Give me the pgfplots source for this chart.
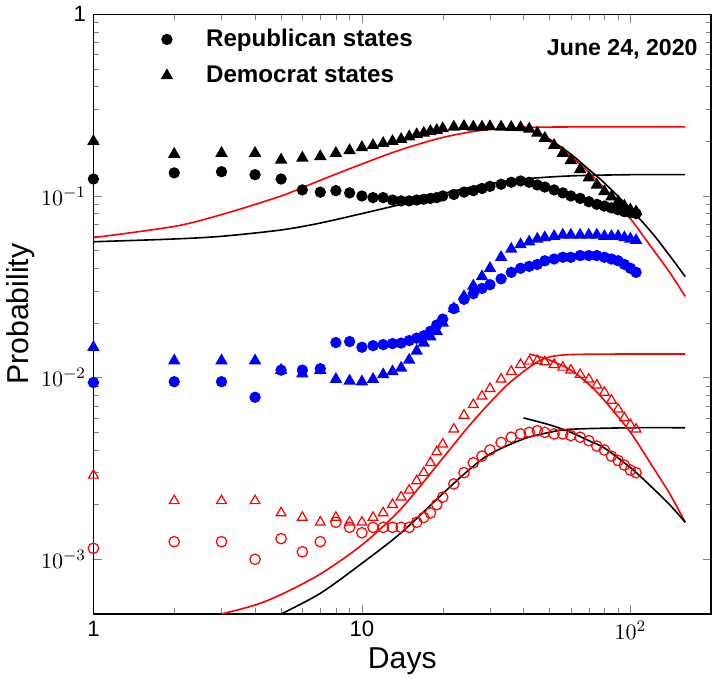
\documentclass[border=0pt]{standalone}
\usepackage{pgfplots}
\pgfplotsset{compat=1.18}
\usepackage{fontspec}
\setmainfont{Liberation Sans}
\begin{document}
\begin{tikzpicture}
\begin{axis}[scale only axis, width=307pt, height=298pt,
 xmode=log, ymode=log, xmin=1, xmax=200, ymin=5e-4, ymax=1,
 xtick={1,10,100}, xticklabels={1,10,$10^2$},
 ytick={1e-3,1e-2,1e-1,1}, yticklabels={$10^{-3}$,$10^{-2}$,$10^{-1}$,1},
 tick label style={font=\fontsize{11}{12}\selectfont},
 xlabel={Days}, ylabel={Probability},
 label style={font=\fontsize{15}{16}\selectfont},
 xlabel style={yshift=3pt}, ylabel style={yshift=-4pt},
 tick align=inside, line width=0.8pt,
 every axis plot/.append style={line width=0.8pt},
 legend style={draw=none, fill=none, at={(0.1,0.99)}, anchor=north west, font=\fontsize{12}{14}\bfseries\selectfont, row sep=4pt, /tikz/every even column/.append style={column sep=0pt}},
 legend cell align=left,
 legend image code/.code={\draw[#1] plot coordinates {(0.3cm,0cm)}; \path (0.9cm,0cm);},
 clip=true]
% Republican circles
\addplot[only marks, mark=*, mark size=2.4pt, black] coordinates {(1,0.124)(2,0.134)(3,0.136)(4,0.131)(5,0.124)(6,0.108)(7,0.105)(8,0.107)(9,0.104)(10,0.1)(11,0.098)(12,0.098)(13,0.095)(14,0.094)(15,0.094)(16,0.095)(17,0.096)(18,0.097)(19,0.098)(20,0.1)(22,0.102)(24,0.105)(26,0.107)(28,0.11)(30,0.113)(33,0.116)(36,0.119)(39,0.121)(42,0.119)(45,0.115)(48,0.112)(52,0.108)(56,0.104)(60,0.1)(65,0.097)(70,0.093)(75,0.09)(80,0.088)(85,0.086)(90,0.084)(95,0.082)(100,0.081)(105,0.08)};
\addlegendentry{Republican states}
\addplot[only marks, mark=triangle*, mark size=2.8pt, black] coordinates {(1,0.2)(2,0.17)(3,0.172)(4,0.172)(5,0.158)(6,0.162)(7,0.165)(8,0.172)(9,0.178)(10,0.185)(11,0.19)(12,0.195)(13,0.2)(14,0.205)(15,0.212)(16,0.218)(17,0.222)(18,0.227)(19,0.23)(20,0.235)(22,0.24)(24,0.242)(26,0.24)(28,0.24)(30,0.241)(33,0.24)(36,0.239)(39,0.238)(42,0.234)(45,0.222)(48,0.208)(52,0.19)(56,0.172)(60,0.157)(65,0.14)(70,0.126)(75,0.115)(80,0.106)(85,0.099)(90,0.093)(95,0.088)(100,0.084)(105,0.082)};
\addlegendentry{Democrat states}
% blue
\addplot[only marks, mark=triangle*, mark size=2.8pt, blue] coordinates {(1,0.0147)(2,0.0124)(3,0.0124)(4,0.0124)(5,0.011)(6,0.0105)(7,0.011)(8,0.0098)(9,0.0096)(10,0.0095)(11,0.0098)(12,0.0104)(13,0.0108)(14,0.0113)(15,0.0125)(16,0.014)(17,0.0155)(18,0.0168)(19,0.018)(20,0.02)(22,0.024)(24,0.028)(26,0.032)(28,0.036)(30,0.04)(33,0.046)(36,0.051)(39,0.054)(42,0.056)(45,0.058)(48,0.059)(52,0.06)(56,0.061)(60,0.061)(65,0.061)(70,0.061)(75,0.061)(80,0.06)(85,0.06)(90,0.06)(95,0.059)(100,0.058)(105,0.057)};
\addplot[only marks, mark=*, mark size=2.4pt, blue] coordinates {(1,0.0094)(2,0.0095)(3,0.0095)(4,0.0078)(5,0.011)(6,0.011)(7,0.0112)(8,0.0156)(9,0.0158)(10,0.0147)(11,0.015)(12,0.0152)(13,0.0154)(14,0.0155)(15,0.016)(16,0.0165)(17,0.017)(18,0.018)(19,0.0195)(20,0.021)(22,0.024)(24,0.027)(26,0.029)(28,0.031)(30,0.0325)(33,0.035)(36,0.038)(39,0.04)(42,0.041)(45,0.042)(48,0.044)(52,0.045)(56,0.046)(60,0.046)(65,0.047)(70,0.047)(75,0.047)(80,0.046)(85,0.045)(90,0.044)(95,0.042)(100,0.04)(105,0.038)};
% red open
\addplot[only marks, mark=triangle, mark size=2.8pt, red, line width=0.6pt] coordinates {(1,0.0029)(2,0.0021)(3,0.0021)(4,0.0021)(5,0.0018)(6,0.0017)(7,0.0016)(8,0.0017)(9,0.0016)(10,0.0016)(11,0.0017)(12,0.0018)(13,0.002)(14,0.0022)(15,0.0024)(16,0.0027)(17,0.003)(18,0.0034)(19,0.0039)(20,0.0043)(22,0.0052)(24,0.0062)(26,0.0071)(28,0.0079)(30,0.0087)(33,0.0098)(36,0.0108)(39,0.0118)(42,0.0123)(45,0.0124)(48,0.0122)(52,0.0118)(56,0.0114)(60,0.011)(65,0.0104)(70,0.0098)(75,0.0091)(80,0.0083)(85,0.0075)(90,0.0067)(95,0.006)(100,0.0055)(105,0.0052)};
\addplot[only marks, mark=o, mark size=2.6pt, red, line width=0.6pt] coordinates {(1,0.00115)(2,0.00125)(3,0.00125)(4,0.001)(5,0.0013)(6,0.0011)(7,0.00125)(8,0.0016)(9,0.0015)(10,0.0014)(11,0.0015)(12,0.0015)(13,0.0015)(14,0.0015)(15,0.0015)(16,0.0016)(17,0.0017)(18,0.0018)(19,0.002)(20,0.0022)(22,0.0026)(24,0.003)(26,0.0034)(28,0.0037)(30,0.004)(33,0.0044)(36,0.0047)(39,0.0049)(42,0.005)(45,0.0051)(48,0.005)(52,0.0049)(56,0.0049)(60,0.0048)(65,0.0047)(70,0.0045)(75,0.0042)(80,0.004)(85,0.0037)(90,0.0035)(95,0.0033)(100,0.0031)(105,0.003)};
% fits rising
\addplot[red, no marks, smooth] coordinates {(1,0.059)(2,0.068)(3,0.079)(5,0.1)(7,0.122)(10,0.15)(14,0.18)(20,0.21)(28,0.23)(40,0.238)(60,0.24)(100,0.24)(160,0.24)};
\addplot[black, no marks, smooth] coordinates {(1,0.056)(2,0.058)(3,0.06)(5,0.065)(7,0.071)(10,0.08)(14,0.09)(20,0.103)(28,0.115)(40,0.124)(60,0.129)(100,0.131)(160,0.131)};
\addplot[red, no marks, smooth] coordinates {(3,0.0005)(4,0.00056)(5,0.00064)(7,0.00083)(10,0.0012)(14,0.0019)(20,0.0036)(25,0.0054)(30,0.0073)(35,0.0092)(40,0.0108)(45,0.0122)(50,0.013)(60,0.0134)(100,0.0135)(160,0.0135)};
\addplot[black, no marks, smooth] coordinates {(5,0.0005)(7,0.00065)(10,0.00095)(14,0.0014)(20,0.0023)(25,0.0031)(30,0.0038)(40,0.0046)(50,0.005)(60,0.0052)(100,0.0053)(160,0.0053)};
% fits decaying
\addplot[red, no marks, smooth] coordinates {(40,0.242)(50,0.2)(60,0.165)(70,0.135)(80,0.11)(100,0.075)(120,0.052)(140,0.038)(160,0.028)};
\addplot[black, no marks, smooth] coordinates {(42,0.235)(50,0.205)(60,0.17)(70,0.14)(80,0.118)(100,0.085)(120,0.063)(140,0.047)(160,0.036)};
\addplot[red, no marks, smooth] coordinates {(42,0.0135)(50,0.0125)(60,0.011)(70,0.0092)(80,0.0075)(100,0.005)(120,0.0033)(140,0.0023)(160,0.0016)};
\addplot[black, no marks, smooth] coordinates {(40,0.006)(50,0.0055)(60,0.005)(70,0.0045)(80,0.0041)(100,0.0032)(120,0.0025)(140,0.002)(160,0.0016)};
\node[anchor=north east, font=\fontsize{11.5}{13}\bfseries\selectfont] at (rel axis cs:0.99,0.97) {June 24, 2020};
\end{axis}
\end{tikzpicture}
\end{document}
